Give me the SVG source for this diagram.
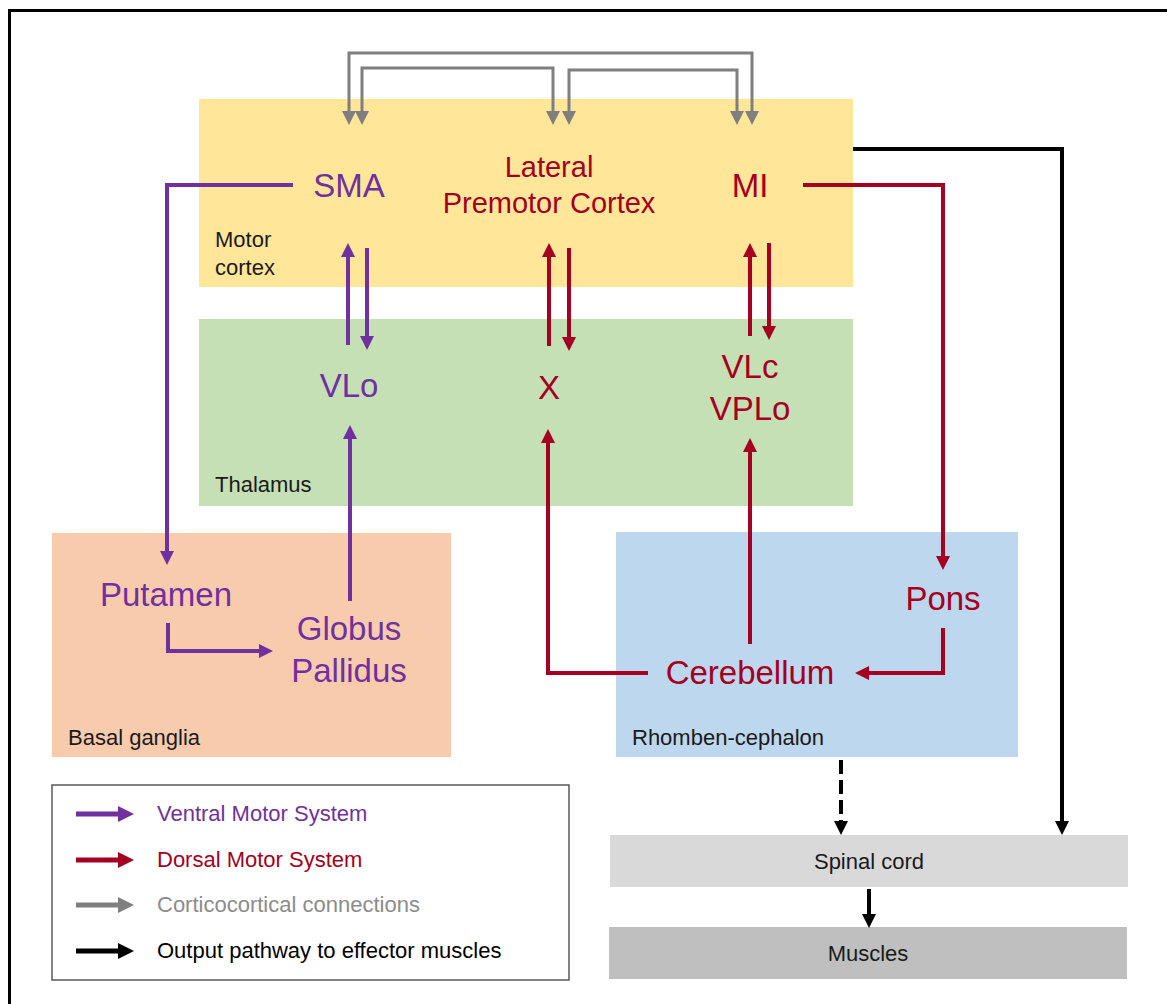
<svg xmlns="http://www.w3.org/2000/svg" width="1167" height="1004" viewBox="0 0 1167 1004">
<style>
  text { font-family: "Liberation Sans", Arial, sans-serif; }
  .big { font-size: 33px; text-anchor: middle; }
  .lpm { font-size: 29px; text-anchor: middle; }
  .lab { font-size: 22px; fill: #1a1a1a; }
  .leg { font-size: 22px; }
  .pur { fill: #7030A0; }
  .red { fill: #A50021; }
  .c-grey { fill: none; stroke: #7F7F7F; stroke-width: 3; }
  .c-pur { fill: none; stroke: #7030A0; stroke-width: 4; }
  .c-red { fill: none; stroke: #A50021; stroke-width: 4; }
  .c-blk { fill: none; stroke: #000000; stroke-width: 4; }
</style>
<defs>
  <marker id="ag" viewBox="0 0 14 14" refX="2" refY="7" markerWidth="14" markerHeight="14" markerUnits="userSpaceOnUse" orient="auto-start-reverse"><path d="M0,0 L14,7 L0,14 z" fill="#7F7F7F"/></marker>
  <marker id="ap" viewBox="0 0 14 14" refX="2" refY="7" markerWidth="14" markerHeight="14" markerUnits="userSpaceOnUse" orient="auto"><path d="M0,0 L14,7 L0,14 z" fill="#7030A0"/></marker>
  <marker id="ar" viewBox="0 0 14 14" refX="2" refY="7" markerWidth="14" markerHeight="14" markerUnits="userSpaceOnUse" orient="auto"><path d="M0,0 L14,7 L0,14 z" fill="#A50021"/></marker>
  <marker id="ab" viewBox="0 0 14 14" refX="2" refY="7" markerWidth="14" markerHeight="14" markerUnits="userSpaceOnUse" orient="auto"><path d="M0,0 L14,7 L0,14 z" fill="#000000"/></marker>
  <marker id="lp" viewBox="0 0 16 16" refX="2" refY="8" markerWidth="16" markerHeight="16" markerUnits="userSpaceOnUse" orient="auto"><path d="M0,0 L16,8 L0,16 z" fill="#7030A0"/></marker>
  <marker id="lr" viewBox="0 0 16 16" refX="2" refY="8" markerWidth="16" markerHeight="16" markerUnits="userSpaceOnUse" orient="auto"><path d="M0,0 L16,8 L0,16 z" fill="#A50021"/></marker>
  <marker id="lg" viewBox="0 0 16 16" refX="2" refY="8" markerWidth="16" markerHeight="16" markerUnits="userSpaceOnUse" orient="auto"><path d="M0,0 L16,8 L0,16 z" fill="#7F7F7F"/></marker>
  <marker id="lb" viewBox="0 0 16 16" refX="2" refY="8" markerWidth="16" markerHeight="16" markerUnits="userSpaceOnUse" orient="auto"><path d="M0,0 L16,8 L0,16 z" fill="#000000"/></marker>
</defs>
<rect x="0" y="0" width="1167" height="1004" fill="#ffffff"/>
<rect x="9.5" y="10.5" width="1170" height="1010" fill="none" stroke="#000000" stroke-width="3"/>

<g id="motor-cortex">
  <rect x="199" y="99" width="654" height="188" fill="#FFE699"/>
  <text class="lab" x="215" y="247">Motor</text>
  <text class="lab" x="215" y="275">cortex</text>
</g>
<g id="thalamus">
  <rect x="199" y="319" width="654" height="187" fill="#C5E0B4"/>
  <text class="lab" x="215" y="492">Thalamus</text>
</g>
<g id="basal-ganglia">
  <rect x="52" y="533" width="399" height="224" fill="#F8CBAD"/>
  <text class="lab" x="68" y="745">Basal ganglia</text>
</g>
<g id="rhombencephalon">
  <rect x="616" y="532" width="402" height="225" fill="#BDD7EE"/>
  <text class="lab" x="632" y="745">Rhomben-cephalon</text>
</g>
<g id="spinal-cord">
  <rect x="610" y="835" width="518" height="52" fill="#D9D9D9"/>
  <text class="lab" x="869" y="869" text-anchor="middle">Spinal cord</text>
</g>
<g id="muscles">
  <rect x="609" y="927" width="518" height="52" fill="#BFBFBF"/>
  <text class="lab" x="868" y="961" text-anchor="middle">Muscles</text>
</g>

<g id="sma"><text class="big pur" x="349" y="197">SMA</text></g>
<g id="lateral-premotor-cortex">
  <text class="lpm red" x="549" y="177">Lateral</text>
  <text class="lpm red" x="549" y="213">Premotor Cortex</text>
</g>
<g id="mi"><text class="big red" x="750" y="197">MI</text></g>
<g id="vlo"><text class="big pur" x="349" y="397">VLo</text></g>
<g id="x"><text class="big red" x="549" y="399">X</text></g>
<g id="vlc-vplo">
  <text class="big red" x="750" y="378">VLc</text>
  <text class="big red" x="750" y="420">VPLo</text>
</g>
<g id="putamen"><text class="big pur" x="166" y="606">Putamen</text></g>
<g id="globus-pallidus">
  <text class="big pur" x="349" y="640">Globus</text>
  <text class="big pur" x="349" y="682">Pallidus</text>
</g>
<g id="pons"><text class="big red" x="943" y="610">Pons</text></g>
<g id="cerebellum"><text class="big red" x="750" y="684">Cerebellum</text></g>

<g id="connectors">
  <path class="c-grey" d="M349,113 V53 H752 V113" marker-start="url(#ag)" marker-end="url(#ag)"/>
  <path class="c-grey" d="M362,113 V68 H553 V113" marker-start="url(#ag)" marker-end="url(#ag)"/>
  <path class="c-grey" d="M569,113 V70 H737 V113" marker-start="url(#ag)" marker-end="url(#ag)"/>

  <path class="c-pur" d="M293,185 H167 V553" marker-end="url(#ap)"/>
  <path class="c-pur" d="M367,248 V338" marker-end="url(#ap)"/>
  <path class="c-pur" d="M348,345 V255" marker-end="url(#ap)"/>
  <path class="c-pur" d="M350,601 V437" marker-end="url(#ap)"/>
  <path class="c-pur" d="M168,623 V651 H261" marker-end="url(#ap)"/>

  <path class="c-red" d="M549,346 V255" marker-end="url(#ar)"/>
  <path class="c-red" d="M569,248 V339" marker-end="url(#ar)"/>
  <path class="c-red" d="M750,336 V255" marker-end="url(#ar)"/>
  <path class="c-red" d="M769,243 V328" marker-end="url(#ar)"/>
  <path class="c-red" d="M803,185 H943 V558" marker-end="url(#ar)"/>
  <path class="c-red" d="M943,628 V673 H867" marker-end="url(#ar)"/>
  <path class="c-red" d="M648,673 H548 V441" marker-end="url(#ar)"/>
  <path class="c-red" d="M750,644 V450" marker-end="url(#ar)"/>

  <path class="c-blk" d="M853,149 H1062 V823" marker-end="url(#ab)"/>
  <path class="c-blk" d="M841,760 V823" stroke-dasharray="14 6" marker-end="url(#ab)"/>
  <path class="c-blk" d="M869,889 V916" marker-end="url(#ab)"/>
</g>

<g id="legend">
  <rect x="52" y="785" width="517" height="195" fill="#ffffff" stroke="#595959" stroke-width="1.5"/>
  <line x1="76" y1="814" x2="120" y2="814" stroke="#7030A0" stroke-width="5" marker-end="url(#lp)"/>
  <line x1="76" y1="860" x2="120" y2="860" stroke="#A50021" stroke-width="5" marker-end="url(#lr)"/>
  <line x1="76" y1="905" x2="120" y2="905" stroke="#7F7F7F" stroke-width="5" marker-end="url(#lg)"/>
  <line x1="76" y1="951" x2="120" y2="951" stroke="#000000" stroke-width="5" marker-end="url(#lb)"/>
  <text class="leg" x="157" y="821" fill="#7030A0">Ventral Motor System</text>
  <text class="leg" x="157" y="867" fill="#A50021">Dorsal Motor System</text>
  <text class="leg" x="157" y="912" fill="#8C8C8C">Corticocortical connections</text>
  <text class="leg" x="157" y="958" fill="#000000">Output pathway to effector muscles</text>
</g>
</svg>
